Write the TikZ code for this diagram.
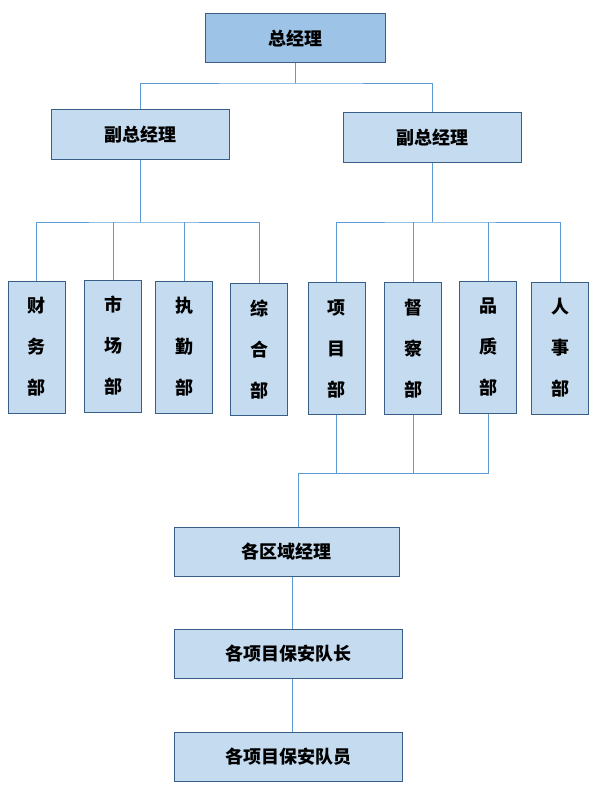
\documentclass[tikz,border=0pt]{standalone}
\usepackage{fontspec}
\setmainfont{Noto Sans CJK SC}
\usepackage{tikz}
\usetikzlibrary{calc,positioning}
\definecolor{boxline}{HTML}{3A5F86}
\definecolor{topfill}{HTML}{9DC3E6}
\definecolor{boxfill}{HTML}{C5DCF0}
\definecolor{linkblue}{HTML}{5B9BD5}
\tikzstyle{chief}=[draw=boxline,
                   fill=topfill,
                   line width=1pt,
                   minimum width=180pt,
                   minimum height=49pt,
                   font=\fontsize{18}{18}\selectfont\bfseries]
\tikzstyle{mgr}=[draw=boxline,
                 fill=boxfill,
                 line width=1pt,
                 minimum width=178pt,
                 minimum height=49pt,
                 font=\fontsize{18}{18}\selectfont\bfseries]
\tikzstyle{dept}=[draw=boxline,
                  fill=boxfill,
                  line width=1pt,
                  minimum width=57pt,
                  minimum height=132pt,
                  align=center,
                  font=\fontsize{18}{41}\selectfont\bfseries]
\tikzstyle{link}=[draw=linkblue,line width=0.9pt]

\begin{document}
\begin{tikzpicture}[x=1pt,y=-1pt]
    \useasboundingbox (0,0) rectangle (598,797);
    % top levels
    \node[chief] (gm) at (295,38.5) {总经理};
    \node[mgr] (vpL) at (140,134.5) {副总经理};
    \node[mgr] (vpR) at (432,137.5) {副总经理};
    % departments
    \node[dept] (cw) at (36.5,347) {财\\务\\部};
    \node[dept] (sc) at (113,346) {市\\场\\部};
    \node[dept] (zq) at (184,347) {执\\勤\\部};
    \node[dept] (zh) at (259,349.5) {综\\合\\部};
    \node[dept] (xm) at (336.5,348.5) {项\\目\\部};
    \node[dept] (dc) at (413,348.5) {督\\察\\部};
    \node[dept] (pz) at (488,347.5) {品\\质\\部};
    \node[dept] (rs) at (560,348) {人\\事\\部};
    % lower levels
    \node[mgr,minimum width=225pt] (qy) at (286.5,551.5) {各区域经理};
    \node[mgr,minimum width=228pt,below=52pt of qy,xshift=1.5pt] (dz) {各项目保安队长};
    \node[mgr,minimum width=228pt,below=53pt of dz] (dy) {各项目保安队员};
    % junctions
    \coordinate (busA) at (295,83);
    \coordinate (busL) at (140,222);
    \coordinate (busR) at (432,222);
    \coordinate (busB) at (298,473);
    \draw[link] (gm.south) -- (busA);
    \draw[link] (vpL.north) |- (busA) -| (vpR.north);
    \draw[link] (vpL.south) -- (busL);
    \draw[link] (cw.north) |- (busL) -| (zh.north);
    \foreach \d in {sc,zq}
        \draw[link] (\d.north) -- (\d.north |- busL);
    \draw[link] (vpR.south) -- (busR);
    \draw[link] (xm.north) |- (busR) -| (rs.north);
    \foreach \d in {dc,pz}
        \draw[link] (\d.north) -- (\d.north |- busR);
    \draw[link] (pz.south) |- (busB) -- (busB |- qy.north);
    \foreach \d in {xm,dc}
        \draw[link] (\d.south) -- (\d.south |- busB);
    \draw[link] ([xshift=6pt]qy.south) -- ([xshift=6pt]qy.south |- dz.north);
    \draw[link] ([xshift=4pt]dz.south) -- ([xshift=4pt]dz.south |- dy.north);
\end{tikzpicture}
\end{document}
